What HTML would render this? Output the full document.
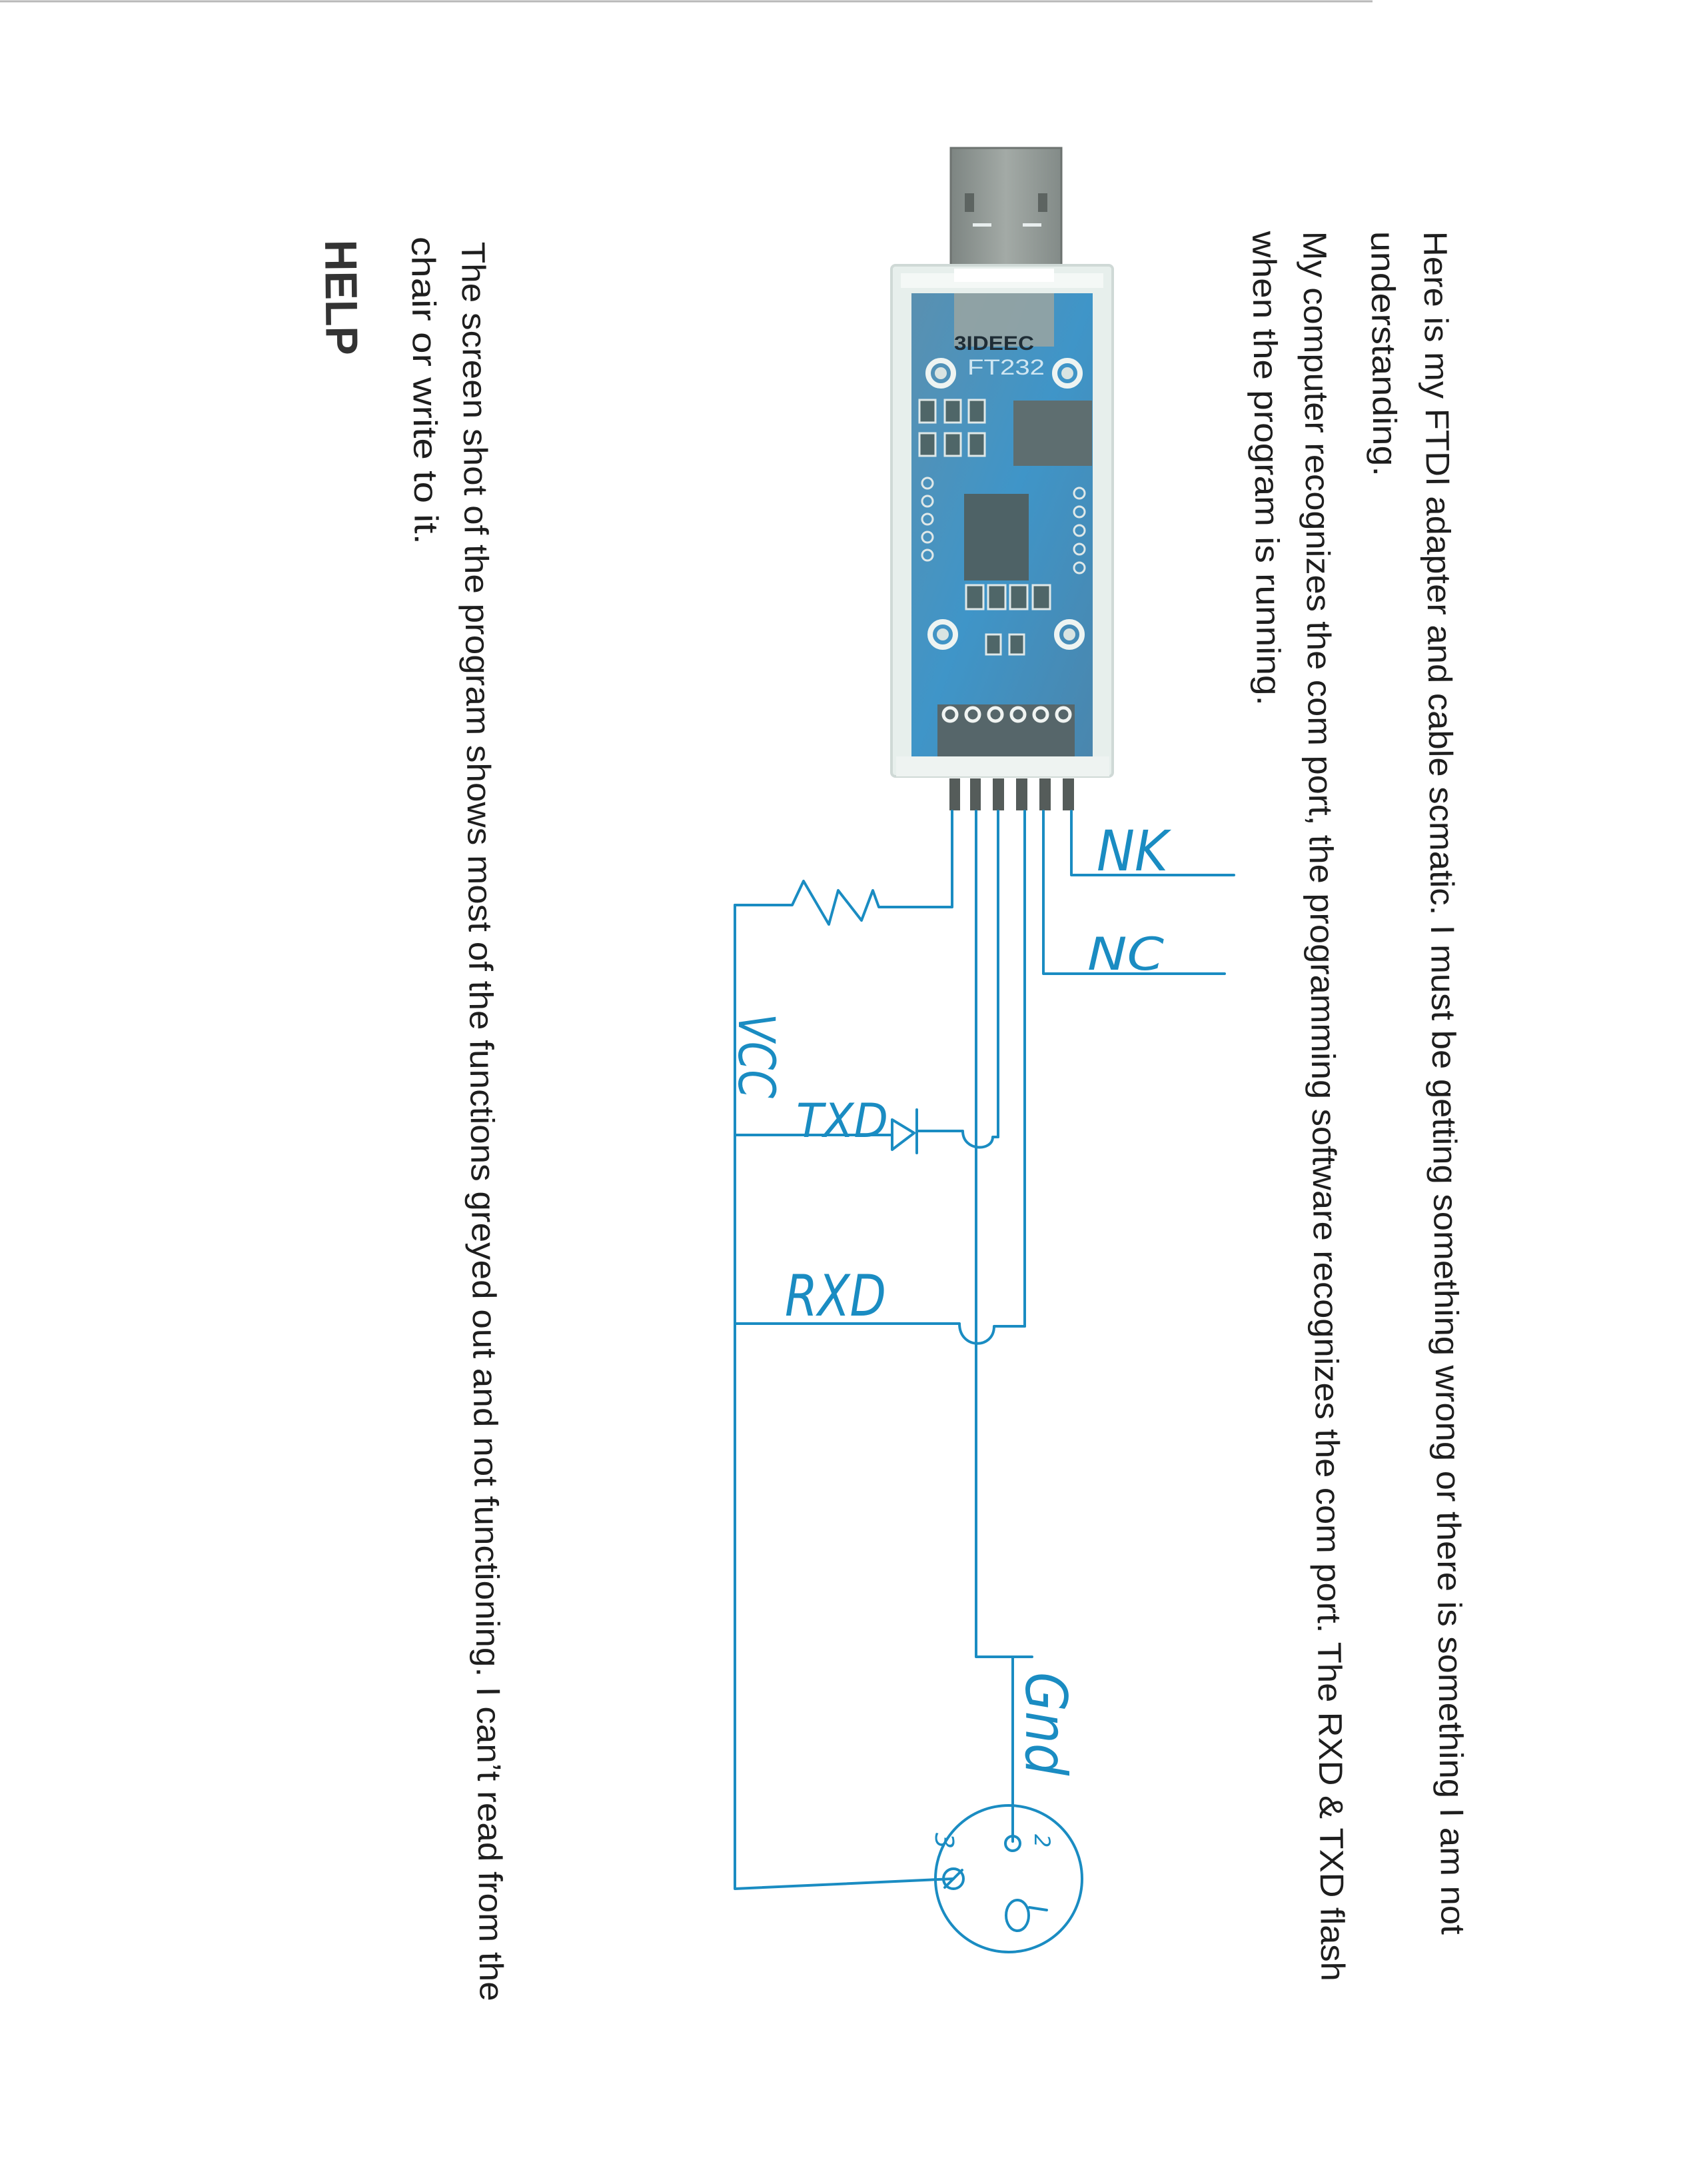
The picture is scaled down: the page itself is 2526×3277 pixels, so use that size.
<!DOCTYPE html>
<html><head><meta charset="utf-8">
<style>
html,body{margin:0;padding:0;background:#fff;}
svg{display:block;}
</style></head>
<body>
<svg xmlns="http://www.w3.org/2000/svg" width="2526" height="3277" viewBox="0 0 2526 3277">
<rect width="2526" height="3277" fill="#ffffff"/>
<!-- top scan line -->
<line x1="0" y1="2" x2="2060" y2="2" stroke="#b8b8b8" stroke-width="3"/>

<!-- typed text, rotated -->
<g font-family="Liberation Sans, sans-serif" font-size="50" fill="#1e1e1e">
<text transform="translate(2137,347) rotate(89.4)" textLength="2556" lengthAdjust="spacingAndGlyphs">Here is my FTDI adapter and cable scmatic. I must be getting something wrong or there is something I am not</text>
<text transform="translate(2058,347) rotate(89.4)" textLength="368" lengthAdjust="spacingAndGlyphs">understanding.</text>
<text transform="translate(1956,347) rotate(89.4)" textLength="2626" lengthAdjust="spacingAndGlyphs">My computer recognizes the com port, the programming software recognizes the com port. The RXD &amp; TXD flash</text>
<text transform="translate(1880,347) rotate(89.4)" textLength="712" lengthAdjust="spacingAndGlyphs">when the program is running.</text>
<text transform="translate(693,363) rotate(89.4)" textLength="2640" lengthAdjust="spacingAndGlyphs">The screen shot of the program shows most of the functions greyed out and not functioning. I can’t read from the</text>
<text transform="translate(618,355) rotate(89.4)" textLength="462" lengthAdjust="spacingAndGlyphs">chair or write to it.</text>
<text transform="translate(488,360) rotate(89.4)" font-size="68" font-weight="bold" fill="#333" textLength="173" lengthAdjust="spacingAndGlyphs">HELP</text>
</g>

<!-- FTDI adapter -->
<defs>
<linearGradient id="plug" x1="0" x2="1" y1="0" y2="0">
<stop offset="0" stop-color="#7d8582"/><stop offset="0.5" stop-color="#a3aaa6"/><stop offset="1" stop-color="#838b88"/>
</linearGradient>
<linearGradient id="pcb" x1="0" x2="1" y1="0" y2="1">
<stop offset="0" stop-color="#5a90b0"/><stop offset="0.5" stop-color="#3f95c8"/><stop offset="1" stop-color="#4a86ad"/>
</linearGradient>
</defs>
<rect x="1427" y="222" width="166" height="185" fill="url(#plug)" stroke="#6d7370" stroke-width="3"/>
<rect x="1448" y="290" width="14" height="28" fill="#5d6461"/>
<rect x="1558" y="290" width="14" height="28" fill="#5d6461"/>
<rect x="1460" y="335" width="28" height="5" fill="#e8eeee"/>
<rect x="1535" y="335" width="28" height="5" fill="#e8eeee"/>
<!-- case -->
<rect x="1338" y="398" width="332" height="767" rx="6" fill="#e7efec" stroke="#cfd9d6" stroke-width="4"/>
<rect x="1352" y="410" width="304" height="22" fill="#f4f8f6"/>
<rect x="1432" y="403" width="150" height="20" fill="#ffffff"/>
<!-- pcb -->
<rect x="1368" y="440" width="272" height="700" fill="url(#pcb)"/>
<rect x="1432" y="440" width="150" height="80" fill="#9aa4a1" opacity="0.85"/>
<text x="1432" y="525" font-family="Liberation Sans, sans-serif" font-size="30" fill="#1f2d36" font-weight="bold" textLength="120" lengthAdjust="spacingAndGlyphs">3IDEEC</text>
<text x="1452" y="562" font-family="Liberation Sans, sans-serif" font-size="32" fill="#cfe6f2" textLength="116" lengthAdjust="spacingAndGlyphs">FT232</text>
<g fill="none" stroke="#eef4f2" stroke-width="8">
<circle cx="1412" cy="560" r="19"/><circle cx="1602" cy="560" r="19"/>
<circle cx="1415" cy="952" r="19"/><circle cx="1605" cy="952" r="19"/>
</g>
<g fill="#d9e4e2"><circle cx="1412" cy="560" r="9"/><circle cx="1602" cy="560" r="9"/><circle cx="1415" cy="952" r="9"/><circle cx="1605" cy="952" r="9"/></g>
<!-- components -->
<rect x="1521" y="601" width="118" height="98" fill="#5e6e70"/>
<rect x="1447" y="741" width="97" height="130" fill="#4e6266"/>
<g fill="#4f6668" stroke="#dfe8e8" stroke-width="3">
<rect x="1380" y="600" width="24" height="34"/><rect x="1418" y="600" width="24" height="34"/><rect x="1454" y="600" width="24" height="34"/>
<rect x="1380" y="650" width="24" height="34"/><rect x="1418" y="650" width="24" height="34"/><rect x="1454" y="650" width="24" height="34"/>
<rect x="1450" y="878" width="26" height="36"/><rect x="1483" y="878" width="26" height="36"/><rect x="1516" y="878" width="26" height="36"/><rect x="1550" y="878" width="26" height="36"/>
<rect x="1480" y="952" width="22" height="30"/><rect x="1515" y="952" width="22" height="30"/>
</g>
<g fill="none" stroke="#dfe8e8" stroke-width="3">
<circle cx="1392" cy="725" r="8"/><circle cx="1392" cy="752" r="8"/><circle cx="1392" cy="779" r="8"/><circle cx="1392" cy="806" r="8"/><circle cx="1392" cy="833" r="8"/>
<circle cx="1620" cy="740" r="8"/><circle cx="1620" cy="768" r="8"/><circle cx="1620" cy="796" r="8"/><circle cx="1620" cy="824" r="8"/><circle cx="1620" cy="852" r="8"/>
</g>
<!-- header -->
<rect x="1407" y="1057" width="206" height="84" fill="#56666a"/>
<g fill="none" stroke="#f0f4f2" stroke-width="5">
<circle cx="1426" cy="1072" r="10"/><circle cx="1460" cy="1072" r="10"/><circle cx="1494" cy="1072" r="10"/><circle cx="1528" cy="1072" r="10"/><circle cx="1562" cy="1072" r="10"/><circle cx="1596" cy="1072" r="10"/>
</g>
<rect x="1345" y="1135" width="320" height="30" fill="#eef3f1"/>
<!-- pins -->
<g fill="#555c5a">
<rect x="1425" y="1168" width="16" height="48"/><rect x="1456" y="1168" width="16" height="48"/><rect x="1490" y="1168" width="17" height="48"/>
<rect x="1525" y="1168" width="17" height="48"/><rect x="1560" y="1168" width="17" height="48"/><rect x="1595" y="1168" width="17" height="48"/>
</g>

<!-- schematic wiring -->
<g fill="none" stroke="#1a8cc2" stroke-width="4" stroke-linejoin="round" stroke-linecap="round">
<!-- wire1 resistor to VCC -->
<path d="M1429 1217 V1361 H1319 L1310 1336 L1293 1381 L1258 1336 L1244 1387 L1206 1322 L1189 1358 H1103"/>
<path d="M1103 1358 V2834 L1431 2819"/>
<!-- wire2 to Gnd -->
<path d="M1465 1217 V2486 H1549"/>
<path d="M1520 2486 V2763"/>
<!-- wire3 TXD -->
<path d="M1498 1217 V1706"/>
<path d="M1103 1703 H1339"/>
<path d="M1339 1680 L1372 1700 L1339 1725 Z"/>
<path d="M1376 1665 V1730"/>
<path d="M1376 1697 H1445 C1445 1728 1490 1728 1490 1706 L1498 1706"/>
<!-- wire4 RXD -->
<path d="M1538 1217 V1990"/>
<path d="M1103 1986 H1440 C1440 2025 1492 2025 1492 1990 H1538"/>
<!-- wire5 NC -->
<path d="M1566 1217 V1461 H1838"/>
<!-- wire6 NK -->
<path d="M1608 1217 V1313 H1852"/>
<!-- connector -->
<circle cx="1514" cy="2819" r="110"/>
<circle cx="1520" cy="2766" r="11"/>
<circle cx="1431" cy="2819" r="15"/>
<path d="M1418 2832 L1444 2806"/>
<ellipse cx="1527" cy="2874" rx="17" ry="23"/>
<path d="M1545 2862 L1571 2866"/>
</g>

<!-- handwritten labels -->
<g font-family="DejaVu Sans, sans-serif" fill="#1a8cc2" font-style="italic">
<text x="1646" y="1306" font-size="84" textLength="107" lengthAdjust="spacingAndGlyphs">NK</text>
<text x="1632" y="1455" font-size="68" textLength="115" lengthAdjust="spacingAndGlyphs">NC</text>
<text x="1195" y="1706" font-size="70" textLength="138" lengthAdjust="spacingAndGlyphs">TXD</text>
<text x="1178" y="1974" font-size="86" textLength="152" lengthAdjust="spacingAndGlyphs">RXD</text>
<text transform="translate(1109,1521) rotate(90)" font-size="76" textLength="127" lengthAdjust="spacingAndGlyphs">VCC</text>
<text transform="translate(1540,2509) rotate(90)" font-size="86" textLength="155" lengthAdjust="spacingAndGlyphs">Gnd</text>
<text transform="translate(1553,2752) rotate(90)" font-size="32">2</text>
<text transform="translate(1404,2750) rotate(90)" font-size="38">3</text>
</g>
</svg>
</body></html>
